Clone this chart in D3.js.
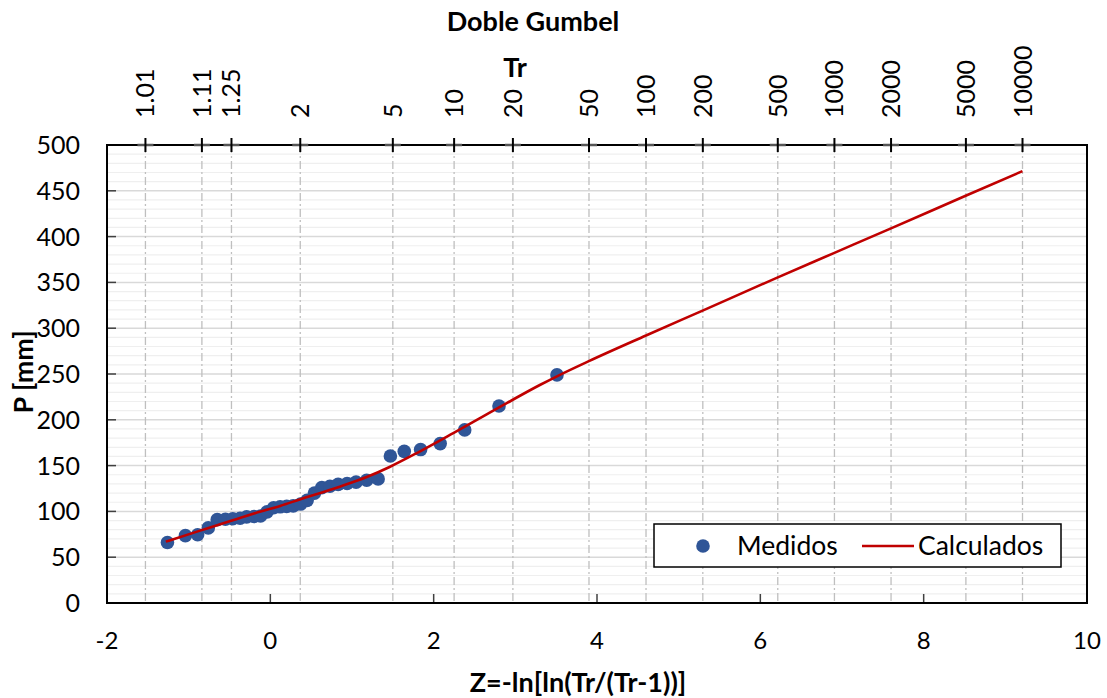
<!DOCTYPE html>
<html>
<head>
<meta charset="utf-8">
<script src="https://cdn.jsdelivr.net/npm/d3@7/dist/d3.min.js"></script>
<style>
  html, body { margin: 0; padding: 0; background: #fff; }
  svg { display: block; font-family: Lato, "Open Sans", "Liberation Sans", sans-serif; }
</style>
</head>
<body>
<svg id="chart" width="1107" height="698"></svg>
<script>
// Measured precipitation, reduced variable Z (Weibull plotting positions)
const medidosZ = [-1.26, -1.04, -0.89, -0.76, -0.65, -0.55, -0.46, -0.37, -0.29, -0.20, -0.12,
  -0.04, 0.04, 0.12, 0.20, 0.28, 0.37, 0.45, 0.54, 0.63, 0.73, 0.83, 0.94, 1.05, 1.18, 1.32,
  1.47, 1.64, 1.84, 2.08, 2.38, 2.80, 3.51];
const medidosP = [66, 73.5, 74.5, 82, 91, 91.5, 92, 92.5, 94, 94.5, 95,
  99.5, 104, 105, 105.5, 106, 108, 112, 120, 126, 127.5, 129.5, 130.5, 132, 134, 135.5,
  160.5, 165.5, 167.5, 174, 189, 215, 249];

// Fitted double Gumbel curve
const calcZ = [-1.28, -0.86, -0.49, -0.13, 0.12, 0.36, 0.85, 1.18, 1.46, 1.80, 2.24, 2.60, 2.90,
  3.30, 3.51, 3.90, 4.60, 5.30, 6.20, 6.90, 7.60, 8.50, 9.21];
const calcP = [67, 79, 89.5, 99.5, 106, 113, 127, 137.5, 148.5, 164, 185.5, 203.5, 218.5,
  238, 247.5, 264, 292, 319.5, 355, 382, 409, 444, 471.5];

// Return periods shown on the top axis
const trValues = [1.01, 1.11, 1.25, 2, 5, 10, 20, 50, 100, 200, 500, 1000, 2000, 5000, 10000];
const trLabels = ["1.01", "1.11", "1.25", "2", "5", "10", "20", "50", "100", "200", "500", "1000", "2000", "5000", "10000"];

const xTicks = [-2, 0, 2, 4, 6, 8, 10];
const yTicks = [0, 50, 100, 150, 200, 250, 300, 350, 400, 450, 500];

const margin = { left: 107, top: 145 };
const pw = 980, ph = 458;

const svg = d3.select("#chart");
const g = svg.append("g").attr("transform", `translate(${margin.left},${margin.top})`);

const x = d3.scaleLinear().domain([-2, 10]).range([0, pw]);
const y = d3.scaleLinear().domain([0, 500]).range([ph, 0]);

// reduced Gumbel variable for a return period
const zOf = tr => -Math.log(Math.log(tr / (tr - 1)));

// minor horizontal grid (every 10)
g.append("g").selectAll("line")
  .data(d3.range(0, 501, 10).filter(v => v % 50 !== 0))
  .join("line")
  .attr("x1", 0).attr("x2", pw)
  .attr("y1", d => y(d)).attr("y2", d => y(d))
  .attr("stroke", "#efefef").attr("stroke-width", 1.2);

// major horizontal grid
g.append("g").selectAll("line")
  .data(yTicks.slice(1, -1))
  .join("line")
  .attr("x1", 0).attr("x2", pw)
  .attr("y1", d => y(d)).attr("y2", d => y(d))
  .attr("stroke", "#d9d9d9").attr("stroke-width", 1.5);

// vertical dashed lines at the return periods
g.append("g").selectAll("line")
  .data(trValues)
  .join("line")
  .attr("x1", d => x(zOf(d))).attr("x2", d => x(zOf(d)))
  .attr("y1", 0).attr("y2", ph)
  .attr("stroke", "#bfbfbf").attr("stroke-width", 1.3)
  .attr("stroke-dasharray", "8,3,2,3");

// axis ticks (inside)
g.append("g").selectAll("line")
  .data(yTicks)
  .join("line")
  .attr("x1", 0).attr("x2", 9)
  .attr("y1", d => y(d)).attr("y2", d => y(d))
  .attr("stroke", "#404040").attr("stroke-width", 1.5);
g.append("g").selectAll("line")
  .data(xTicks)
  .join("line")
  .attr("x1", d => x(d)).attr("x2", d => x(d))
  .attr("y1", ph).attr("y2", ph - 9)
  .attr("stroke", "#404040").attr("stroke-width", 1.5);

// plot frame
g.append("rect")
  .attr("x", 0).attr("y", 0).attr("width", pw).attr("height", ph)
  .attr("fill", "none").attr("stroke", "#000").attr("stroke-width", 2);

// fitted curve
const line = d3.line()
  .x((d, i) => x(calcZ[i]))
  .y((d, i) => y(calcP[i]))
  .curve(d3.curveMonotoneX);

// measured points
g.append("g").selectAll("circle")
  .data(medidosP)
  .join("circle")
  .attr("cx", (d, i) => x(medidosZ[i]))
  .attr("cy", d => y(d))
  .attr("r", 6.8)
  .attr("fill", "#2f5597");

// curve drawn over the points
g.append("path")
  .datum(calcP)
  .attr("d", line)
  .attr("fill", "none")
  .attr("stroke", "#c00000")
  .attr("stroke-width", 2.6);

// plus markers on the top edge
const plus = g.append("g").selectAll("g")
  .data(trValues)
  .join("g")
  .attr("transform", d => `translate(${x(zOf(d))},0)`);
plus.append("line")
  .attr("x1", -8).attr("x2", 8).attr("y1", 0).attr("y2", 0)
  .attr("stroke", "#555").attr("stroke-width", 2.5);
plus.append("line")
  .attr("x1", 0).attr("x2", 0).attr("y1", -7).attr("y2", 7)
  .attr("stroke", "#000").attr("stroke-width", 2);

// top labels (rotated)
g.append("g").selectAll("text")
  .data(trValues)
  .join("text")
  .attr("transform", d => `translate(${x(zOf(d)) + 9},${-27}) rotate(-90)`)
  .attr("text-anchor", "start")
  .attr("font-size", 25)
  .attr("fill", "#000")
  .text((d, i) => trLabels[i]);

// y tick labels
g.append("g").selectAll("text")
  .data(yTicks)
  .join("text")
  .attr("x", -27).attr("y", d => y(d) + 9)
  .attr("text-anchor", "end")
  .attr("font-size", 25)
  .text(d => d);

// x tick labels
g.append("g").selectAll("text")
  .data(xTicks)
  .join("text")
  .attr("x", d => x(d)).attr("y", ph + 46)
  .attr("text-anchor", "middle")
  .attr("font-size", 24)
  .text(d => d);

// titles
svg.append("text")
  .attr("x", 533).attr("y", 31)
  .attr("text-anchor", "middle")
  .attr("font-size", 27).attr("font-weight", "bold")
  .text("Doble Gumbel");
svg.append("text")
  .attr("x", 515).attr("y", 77)
  .attr("text-anchor", "middle")
  .attr("font-size", 27).attr("font-weight", "bold")
  .text("Tr");
svg.append("text")
  .attr("x", 578).attr("y", 692)
  .attr("text-anchor", "middle")
  .attr("font-size", 27).attr("font-weight", "bold")
  .text("Z=-ln[ln(Tr/(Tr-1))]");
svg.append("text")
  .attr("transform", "translate(33,372) rotate(-90)")
  .attr("text-anchor", "middle")
  .attr("font-size", 27).attr("font-weight", "bold")
  .text("P [mm]");

// legend
const lg = svg.append("g");
lg.append("rect")
  .attr("x", 654).attr("y", 524).attr("width", 407).attr("height", 43)
  .attr("fill", "#fff").attr("stroke", "#000").attr("stroke-width", 1.5);
lg.append("circle").attr("cx", 703).attr("cy", 546).attr("r", 6.8).attr("fill", "#2f5597");
lg.append("text").attr("x", 737).attr("y", 555).attr("font-size", 26.5).text("Medidos");
lg.append("line").attr("x1", 862).attr("x2", 914).attr("y1", 546).attr("y2", 546)
  .attr("stroke", "#c00000").attr("stroke-width", 2.6);
lg.append("text").attr("x", 918).attr("y", 555).attr("font-size", 26.5).text("Calculados");
</script>
</body>
</html>
